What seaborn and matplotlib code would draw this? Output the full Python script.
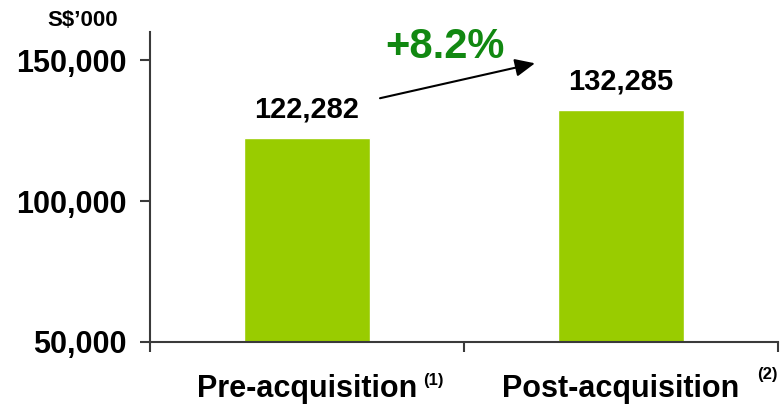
import matplotlib
matplotlib.use("Agg")
import matplotlib.pyplot as plt
import seaborn as sns
import pandas as pd

# Revenue before and after the acquisition (S$'000)
categories = ["Pre-acquisition", "Post-acquisition"]
footnotes = ["(1)", "(2)"]
values = [122282, 132285]
growth_label = "+8.2%"
y_ticks = [50000, 100000, 150000]

df = pd.DataFrame({"period": categories, "value": values})

sns.set_theme(style="white")
plt.rcParams["font.family"] = ["Liberation Sans", "DejaVu Sans"]
plt.rcParams["font.weight"] = "bold"

BAR_GREEN = "#99CC00"
AXIS_GREY = "#3a3a3a"

fig = plt.figure(figsize=(7.8, 4.05), dpi=100)
ax = fig.add_axes([150 / 780, 63 / 405, 628 / 780, 310 / 405])

sns.barplot(data=df, x="period", y="value", color=BAR_GREEN, width=0.40,
            saturation=1, ax=ax)

ax.set_xlim(-0.5, 1.5)
ax.set_ylim(50000, 160000)
ax.set_xlabel("")
ax.set_ylabel("")

# y axis: bold thousands-separated ticks
ax.set_yticks(y_ticks)
ax.set_yticklabels([f"{v:,}" for v in y_ticks], fontsize=22, fontweight="bold",
                   color="black")
ax.tick_params(axis="y", direction="out", length=7, width=1.5,
               color=AXIS_GREY, labelcolor="black", pad=10, left=True)

# x axis: ticks at the category boundaries, labels drawn separately
ax.set_xticks([-0.5, 0.5, 1.5])
ax.set_xticklabels([])
ax.tick_params(axis="x", direction="out", length=7, width=1.5,
               color=AXIS_GREY, bottom=True)

for side in ["top", "right"]:
    ax.spines[side].set_visible(False)
for side in ["left", "bottom"]:
    ax.spines[side].set_color(AXIS_GREY)
    ax.spines[side].set_linewidth(1.5)

# category names with footnote markers
sup_offsets = [(126, -38), (146, -33)]
for i, (name, note) in enumerate(zip(categories, footnotes)):
    ax.annotate(name, xy=(i, 0), xycoords=("data", "axes fraction"),
                xytext=(0, -55), textcoords="offset pixels",
                ha="center", va="baseline", fontsize=22, fontweight="bold",
                color="black", annotation_clip=False)
    ax.annotate(note, xy=(i, 0), xycoords=("data", "axes fraction"),
                xytext=sup_offsets[i], textcoords="offset pixels",
                ha="center", va="center", fontsize=12, fontweight="bold",
                color="black", annotation_clip=False)

# value labels above the bars
for i, v in enumerate(values):
    ax.annotate(f"{v:,}", xy=(i, v), xytext=(0, 21), textcoords="offset pixels",
                ha="center", va="baseline", fontsize=21, fontweight="bold",
                color="black")

# growth arrow between the two periods
ax.annotate("", xy=(0.726, 148900), xytext=(0.2325, 136500),
            arrowprops=dict(arrowstyle="-|>,head_length=1.0,head_width=0.45",
                            color="black", lw=1.5, shrinkA=0, shrinkB=0),
            annotation_clip=False)
ax.text(0.4395, 154600, growth_label, ha="center", va="center",
        fontsize=30, fontweight="bold", color="#118811", clip_on=False)

# unit label
fig.text(83 / 780, 1 - 21 / 405, "S$\u2019000", ha="center", va="center",
         fontsize=16, fontweight="bold", color="black")

fig.savefig("out.png", dpi=100)
